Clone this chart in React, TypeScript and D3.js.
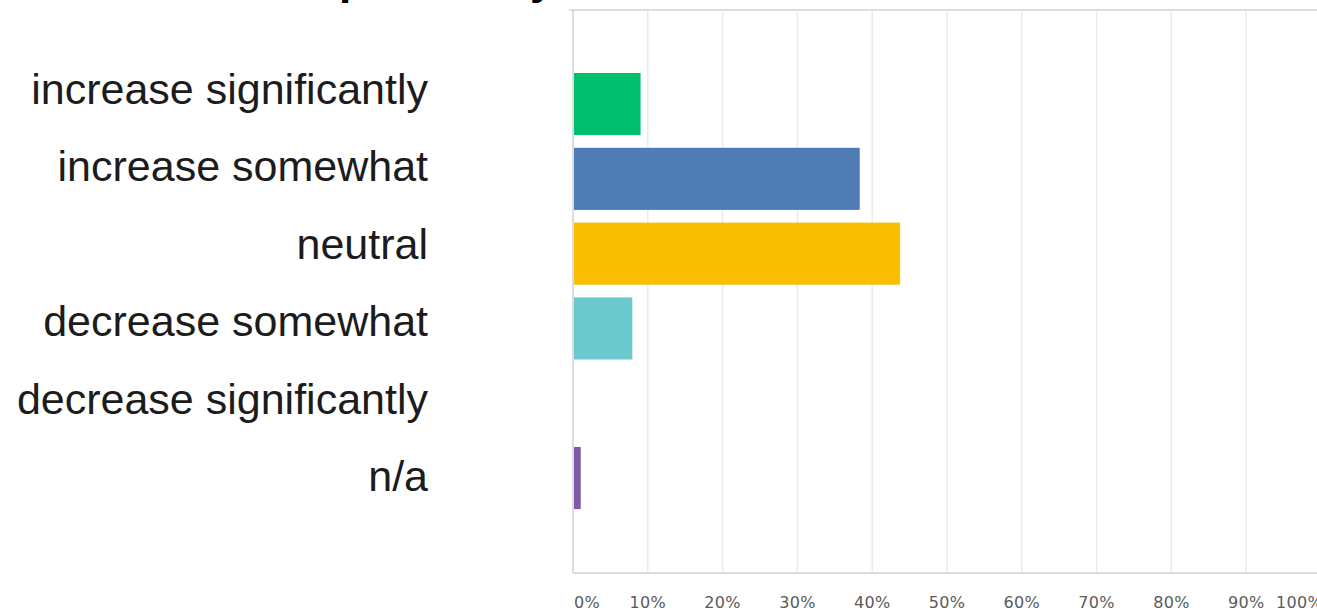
import React from "react";
import * as d3 from "d3";

const categories = [
  "increase significantly",
  "increase somewhat",
  "neutral",
  "decrease somewhat",
  "decrease significantly",
  "n/a",
];
const values = [8.9, 38.2, 43.6, 7.8, 0, 0.9];
const colors = ["#00bf6f", "#507cb6", "#f9be00", "#6bc8cd", "#6f5597", "#7d5ba6"];
const ticks = [0, 10, 20, 30, 40, 50, 60, 70, 80, 90, 100];

const W = 1317;
const H = 611;

export default function App() {
  const x = d3.scaleLinear().domain([0, 100]).range([573, 1321]);
  const y = d3
    .scaleBand<string>()
    .domain(categories)
    .range([73, 509.1])
    .paddingInner(0.17)
    .paddingOuter(0);
  const labelY = d3
    .scalePoint<string>()
    .domain(categories)
    .range([104, 491]);
  const plotTop = 10;
  const plotBottom = 573;

  return (
    <svg
      width={W}
      height={H}
      style={{ position: "absolute", left: 0, top: 0, background: "#fff" }}
    >
      <rect x={0} y={0} width={W} height={H} fill="#fff" />
      {/* cropped title fragments */}
      <text x={339} y={-6} fontFamily="Liberation Sans, Arial, sans-serif" fontWeight="bold" fontSize={44} fill="#000">p</text>
      <text x={530} y={-6} fontFamily="Liberation Sans, Arial, sans-serif" fontWeight="bold" fontSize={44} fill="#000">y</text>

      {/* grid */}
      {ticks.slice(1).map((t) => (
        <line
          key={t}
          x1={x(t)}
          x2={x(t)}
          y1={plotTop + 1}
          y2={plotBottom}
          stroke="#ebebeb"
          strokeWidth={1.5}
        />
      ))}
      <line x1={569} x2={W} y1={plotTop} y2={plotTop} stroke="#bdbdbd" strokeWidth={1.2} />
      <line x1={573} x2={W} y1={plotBottom} y2={plotBottom} stroke="#d0d0d0" strokeWidth={1.5} />
      <line x1={573} x2={573} y1={plotTop} y2={plotBottom} stroke="#d0d0d0" strokeWidth={1.5} />

      {/* bars */}
      {categories.map((c, i) =>
        values[i] > 0 ? (
          <rect
            key={c}
            x={x(0) + 1}
            y={y(c)}
            width={x(values[i]) - x(0)}
            height={y.bandwidth()}
            fill={colors[i]}
          />
        ) : null
      )}

      {/* category labels */}
      {categories.map((c) => (
        <text
          key={c}
          x={428}
          y={labelY(c)}
          textAnchor="end"
          fontFamily="Liberation Sans, Arial, sans-serif"
          fontSize={43}
          fill="#1c1c1c"
        >
          {c}
        </text>
      ))}

      {/* tick labels */}
      {ticks.map((t, i) => {
        const first = i === 0;
        const last = i === ticks.length - 1;
        return (
          <text
            key={t}
            x={first ? x(t) + 1 : last ? x(t) - 45 : x(t)}
            y={608}
            textAnchor={first || last ? "start" : "middle"}
            fontFamily="DejaVu Sans, sans-serif"
            fontSize={16}
            letterSpacing={0.3}
            fill="#5a5a5a"
          >
            {t}%
          </text>
        );
      })}
    </svg>
  );
}
